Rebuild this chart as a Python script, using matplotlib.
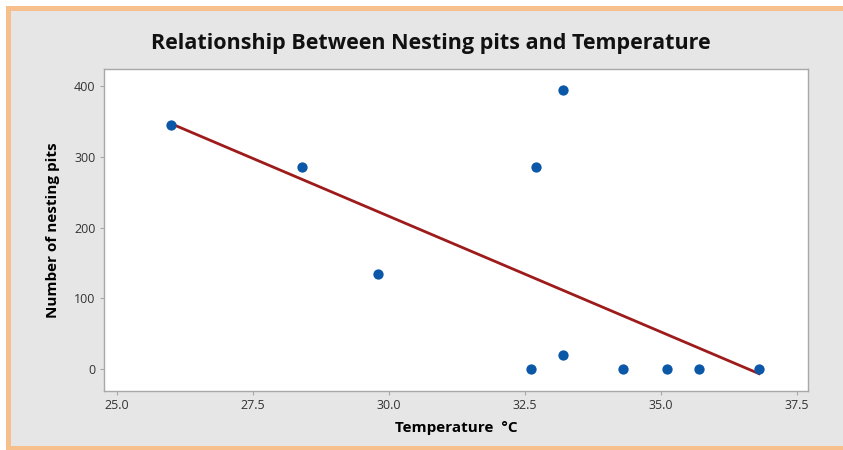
import numpy as np
import matplotlib
matplotlib.use("Agg")
import matplotlib.pyplot as plt
from matplotlib.patches import Rectangle

# data
temperature = [26.0, 28.4, 29.8, 32.6, 32.7, 33.2, 33.2, 34.3, 35.1, 35.7, 36.8]
nesting_pits = [345, 285, 135, 0, 285, 395, 20, 0, 0, 0, 0]
x_ticks = [25.0, 27.5, 30.0, 32.5, 35.0, 37.5]
y_ticks = [0, 100, 200, 300, 400]

plt.rcParams['font.family'] = ['Open Sans', 'DejaVu Sans']

W, H = 843, 450
fig = plt.figure(figsize=(W / 100, H / 100), dpi=100)
fig.patch.set_facecolor('white')

# orange frame and grey panel behind the plot
fig.patches.append(Rectangle((6 / W, 0), 1, 1 - 6 / H, transform=fig.transFigure,
                             facecolor='#f7bf8c', edgecolor='none', zorder=-2))
fig.patches.append(Rectangle((11 / W, 4 / H), 1, 1 - 15 / H, transform=fig.transFigure,
                             facecolor='#e6e6e6', edgecolor='none', zorder=-1))

ax = fig.add_axes([104 / W, 1 - 391 / H, (808 - 104) / W, (391 - 69) / H])
ax.set_facecolor('white')

# least squares fit line
slope, intercept = np.polyfit(temperature, nesting_pits, 1)
xs = np.array([min(temperature), max(temperature)])
ax.plot(xs, slope * xs + intercept, color='#9e1b1b', linewidth=2.0, zorder=2)

ax.scatter(temperature, nesting_pits, s=55, color='#0b57a8', zorder=3, linewidths=0)

ax.set_xlim(24.76, 37.7)
ax.set_ylim(-31, 424)
ax.set_xticks(x_ticks)
ax.set_xticklabels(['%.1f' % t for t in x_ticks])
ax.set_yticks(y_ticks)

for s in ax.spines.values():
    s.set_color('#a8a8a8')
    s.set_linewidth(1.0)
ax.tick_params(direction='out', length=3, color='#a8a8a8', labelsize=9,
               labelcolor='#333333', pad=3)

ax.set_xlabel('Temperature  \u00b0C', fontsize=11, fontweight='bold', labelpad=6)
ax.set_ylabel('Number of nesting pits', fontsize=11, fontweight='bold', labelpad=10)

fig.text(431 / W, 1 - 43 / H, 'Relationship Between Nesting pits and Temperature',
         ha='center', va='center', fontsize=15.5, fontweight='bold', color='#111111')

fig.savefig('out.png', dpi=100)
